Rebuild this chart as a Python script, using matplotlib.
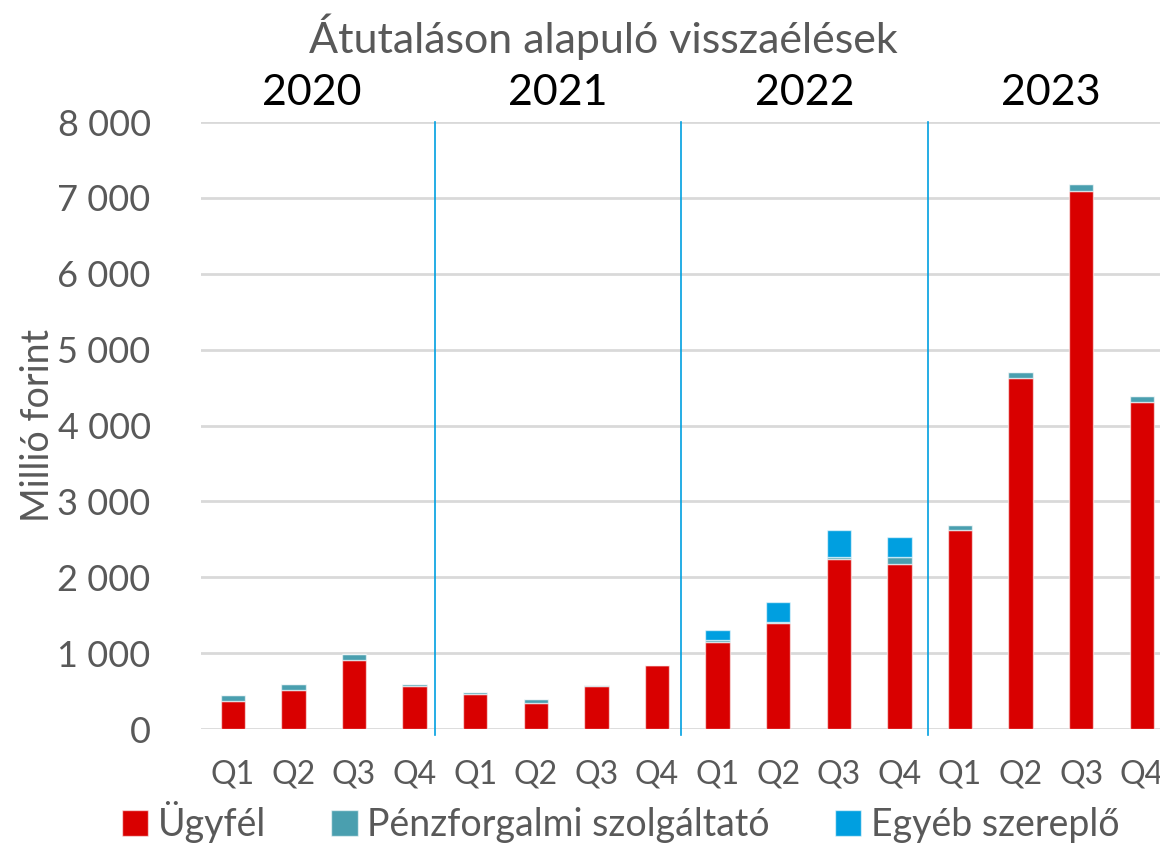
import matplotlib.pyplot as plt
import numpy as np

plt.rcParams['font.family'] = ['Lato', 'DejaVu Sans']

years = ['2020', '2021', '2022', '2023']
quarters = ['Q1', 'Q2', 'Q3', 'Q4'] * 4

# millió forint
ugyfel = [375, 520, 905, 570, 465, 340, 567, 840,
          1150, 1400, 2235, 2180, 2625, 4625, 7090, 4305]
penzforgalmi = [75, 70, 85, 25, 25, 55, 13, 0,
                20, 17, 35, 90, 65, 80, 100, 80]
egyeb = [0, 0, 0, 0, 0, 0, 0, 0,
         135, 260, 355, 255, 0, 0, 0, 0]

gray = '#595959'
c_red = '#D90000'
c_teal = '#4A9FAF'
c_blue = '#009FE0'

fig = plt.figure(figsize=(11.6, 8.47), dpi=100)
ax = fig.add_axes([0.173, 0.1393, 0.827, 0.7166])

x = np.arange(len(quarters))
w = 0.4
ug = np.array(ugyfel)
pf = np.array(penzforgalmi)
eg = np.array(egyeb)
ec = (1, 1, 1, 0.6)
ax.bar(x, ug, w, color=c_red, edgecolor=ec, linewidth=1, label='Ügyfél', zorder=3)
ax.bar(x, pf, w, bottom=ug, color=c_teal, edgecolor=ec, linewidth=1,
       label='Pénzforgalmi szolgáltató', zorder=3)
ax.bar(x, eg, w, bottom=ug + pf, color=c_blue, edgecolor=ec, linewidth=1,
       label='Egyéb szereplő', zorder=3)

ax.set_xlim(-0.53, 15.3)
ax.set_ylim(0, 8000)
ax.set_yticks(np.arange(0, 8001, 1000))
ax.set_yticklabels([f'{v:,}'.replace(',', ' ') for v in range(0, 8001, 1000)])
ax.set_xticks(x)
ax.set_xticklabels(quarters)
ax.yaxis.grid(True, color='#D9D9D9', linewidth=2, zorder=0)
ax.set_axisbelow(True)
for s in ax.spines.values():
    s.set_visible(False)
ax.tick_params(axis='y', length=0, labelsize=26, labelcolor=gray, pad=36)
ax.tick_params(axis='x', length=0, labelsize=23, labelcolor=gray, pad=22)
ax.set_ylabel('Millió forint', fontsize=27, color=gray, va='center')
ax.yaxis.set_label_coords(-0.170, 0.5)

# year separators and labels
dividers = [3.33, 7.4, 11.47]
for d in dividers:
    ax.plot([d, d], [-80, 8000], color='#00A0E0', linewidth=1.2, clip_on=False, zorder=4)
bounds = [-0.73] + dividers + [15.53]
for i, yr in enumerate(years):
    ax.text((bounds[i] + bounds[i + 1]) / 2, 8130, yr, ha='center', va='bottom',
            fontsize=31, color='black')

fig.text(0.52, 0.957, 'Átutaláson alapuló visszaélések', ha='center', va='center',
         fontsize=31, color=gray)

leg = fig.legend(loc='lower center', bbox_to_anchor=(0.535, -0.035), ncol=3,
                 frameon=False, fontsize=27, handlelength=0.7, handleheight=0.7,
                 handletextpad=0.25, columnspacing=1.75)
for t in leg.get_texts():
    t.set_color(gray)

fig.savefig('out.png', dpi=100)
